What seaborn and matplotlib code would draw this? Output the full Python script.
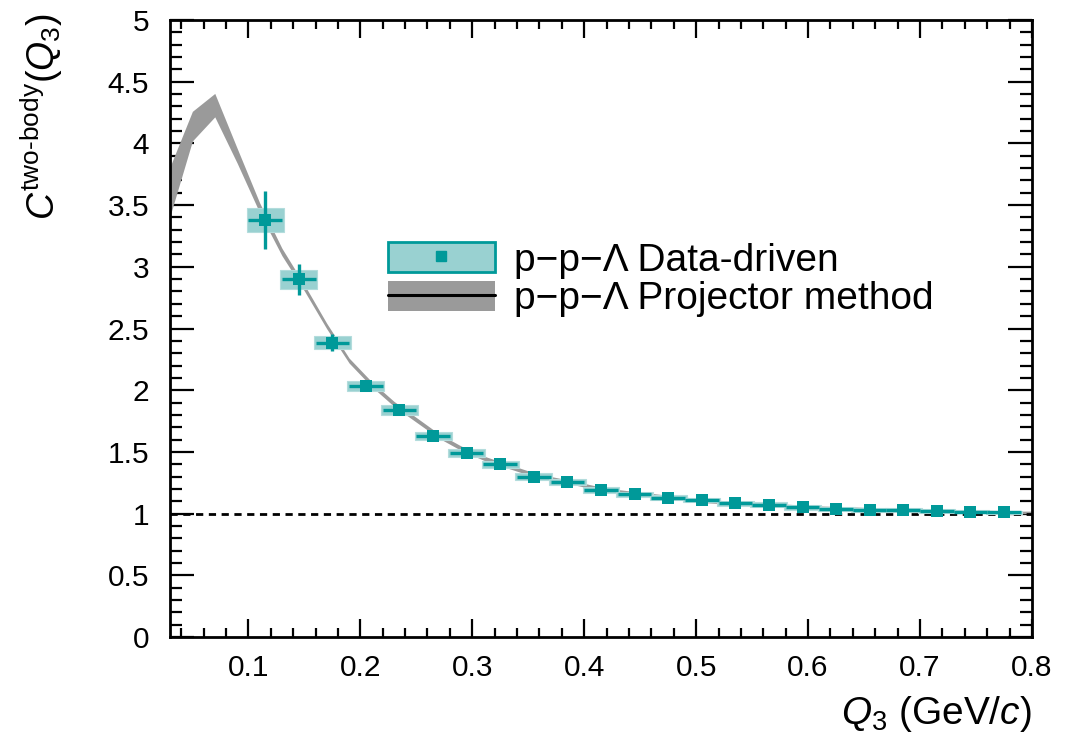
import numpy as np
import pandas as pd
import matplotlib
matplotlib.use("Agg")
import matplotlib.pyplot as plt
import seaborn as sns
from matplotlib.patches import Patch
from matplotlib.lines import Line2D
from matplotlib.ticker import MultipleLocator

# ---------------- data ----------------
q3_data = [0.115, 0.145, 0.175, 0.205, 0.235, 0.265, 0.295, 0.325, 0.355, 0.385,
           0.415, 0.445, 0.475, 0.505, 0.535, 0.565, 0.595, 0.625, 0.655, 0.685,
           0.715, 0.745, 0.775]
c_data = [3.38, 2.90, 2.385, 2.035, 1.84, 1.63, 1.49, 1.40, 1.30, 1.255,
          1.19, 1.155, 1.13, 1.11, 1.083, 1.072, 1.05, 1.04, 1.03, 1.028,
          1.022, 1.015, 1.01]
stat_err = [0.235, 0.125, 0.07, 0.045, 0.04, 0.035, 0.03, 0.028, 0.025, 0.022,
            0.02, 0.02, 0.018, 0.018, 0.016, 0.016, 0.015, 0.015, 0.014, 0.014,
            0.014, 0.013, 0.013]
syst_err = [0.10, 0.077, 0.054, 0.043, 0.038, 0.035, 0.032, 0.030, 0.028, 0.026,
            0.024, 0.022, 0.021, 0.020, 0.019, 0.018, 0.017, 0.016, 0.015, 0.015,
            0.014, 0.014, 0.013]
bin_half_width = 0.015

q3_theory = [0.03, 0.05, 0.07, 0.09, 0.11, 0.13, 0.15, 0.17, 0.19, 0.21,
             0.23, 0.25, 0.27, 0.29, 0.31, 0.33, 0.35, 0.37, 0.39, 0.41,
             0.43, 0.45, 0.47, 0.49, 0.51, 0.53, 0.55, 0.57, 0.59, 0.61,
             0.63, 0.65, 0.67, 0.69, 0.71, 0.73, 0.75, 0.77, 0.79, 0.81]
c_theory = [3.61, 4.14, 4.31, 3.90, 3.48, 3.12, 2.83, 2.52, 2.24, 2.05,
            1.89, 1.76, 1.63, 1.53, 1.45, 1.39, 1.33, 1.285, 1.25, 1.21,
            1.18, 1.16, 1.14, 1.12, 1.10, 1.09, 1.08, 1.07, 1.06, 1.05,
            1.045, 1.04, 1.035, 1.03, 1.025, 1.02, 1.018, 1.015, 1.01, 1.01]
theory_half = [0.20, 0.12, 0.095, 0.06, 0.04, 0.03, 0.025, 0.022, 0.02, 0.02,
               0.02, 0.019, 0.018, 0.018, 0.017, 0.017, 0.016, 0.016, 0.015, 0.015,
               0.015, 0.014, 0.014, 0.014, 0.013, 0.013, 0.013, 0.012, 0.012, 0.012,
               0.012, 0.011, 0.011, 0.011, 0.011, 0.010, 0.010, 0.010, 0.010, 0.010]

x_ticks = [0.1, 0.2, 0.3, 0.4, 0.5, 0.6, 0.7, 0.8]
x_tick_labels = ["0.1", "0.2", "0.3", "0.4", "0.5", "0.6", "0.7", "0.8"]
y_ticks = [0, 0.5, 1, 1.5, 2, 2.5, 3, 3.5, 4, 4.5, 5]
y_tick_labels = ["0", "0.5", "1", "1.5", "2", "2.5", "3", "3.5", "4", "4.5", "5"]

label_data = "p\u2212p\u2212\u039b Data-driven"
label_theory = "p\u2212p\u2212\u039b Projector method"

# ---------------- style ----------------
sns.set_theme(style="ticks")
plt.rcParams["font.family"] = ["Liberation Sans", "DejaVu Sans"]
plt.rcParams["mathtext.fontset"] = "custom"
plt.rcParams["mathtext.rm"] = "Liberation Sans"
plt.rcParams["mathtext.it"] = "Liberation Sans:italic"
plt.rcParams["mathtext.bf"] = "Liberation Sans:bold"
plt.rcParams["text.color"] = "black"
plt.rcParams["axes.labelcolor"] = "black"
plt.rcParams["xtick.color"] = "black"
plt.rcParams["ytick.color"] = "black"

teal = "#009999"
teal_light = "#99d1d1"
gray_band = "#9a9a9a"

df = pd.DataFrame({"q3": q3_data, "c": c_data, "stat": stat_err, "syst": syst_err})
dft = pd.DataFrame({"q3": q3_theory, "c": c_theory, "half": theory_half})

fig = plt.figure(figsize=(10.81, 7.42), dpi=100)
ax = fig.add_axes([170 / 1081, 1 - 637 / 742, 862 / 1081, 617 / 742])

# theory band
ax.fill_between(dft["q3"], dft["c"] - dft["half"], dft["c"] + dft["half"],
                color=gray_band, linewidth=0, zorder=1)

# reference line at 1
ax.axhline(1.0, color="black", linestyle=(0, (2.6, 2.0)), linewidth=2.0, zorder=2)

# systematic boxes
ax.bar(df["q3"], 2 * df["syst"], bottom=df["c"] - df["syst"], width=2 * bin_half_width + 0.003,
       color=teal_light, edgecolor="#b3dcdc", linewidth=0.8, zorder=3)

# statistical errors
ax.errorbar(df["q3"], df["c"], yerr=df["stat"], xerr=bin_half_width, fmt="none",
            ecolor=teal, elinewidth=2.4, capsize=0, zorder=4)

# markers
sns.scatterplot(data=df, x="q3", y="c", marker="s", s=75, color=teal,
                linewidth=0, ax=ax, zorder=5, legend=False)

# axes
ax.set_xlim(0.03, 0.8)
ax.set_ylim(0, 5)
ax.set_xticks(x_ticks, labels=x_tick_labels)
ax.set_yticks(y_ticks, labels=y_tick_labels)
ax.xaxis.set_minor_locator(MultipleLocator(0.02))
ax.yaxis.set_minor_locator(MultipleLocator(0.1))
for s in ax.spines.values():
    s.set_linewidth(2.0)
    s.set_color("black")
    s.set_visible(True)
ax.tick_params(axis="both", which="both", direction="in", top=True, right=True,
               color="black", width=1.6, labelcolor="black")
ax.tick_params(axis="x", which="major", length=13, labelsize=21.5, pad=12)
ax.tick_params(axis="x", which="minor", length=6.5)
ax.tick_params(axis="y", which="major", length=17, labelsize=21.5, pad=15)
ax.tick_params(axis="y", which="minor", length=8.5)

ax.set_xlabel(r"$Q_3$ (GeV/$c$)", fontsize=28, loc="right", labelpad=9)
ax.set_ylabel(r"$C^{\mathrm{two}\text{-}\mathrm{body}}(Q_3)$", fontsize=27, loc="top")
ax.yaxis.set_label_coords(-0.122, 1.011)

# legend
h_data = (Patch(facecolor=teal_light, edgecolor=teal, linewidth=2.0),
          Line2D([], [], marker="s", color=teal, markersize=7, linestyle="none"))
h_theory = (Patch(facecolor=gray_band, edgecolor=gray_band, linewidth=0),
            Line2D([], [], color="black", linewidth=2.2))
leg = ax.legend([h_data, h_theory], [label_data, label_theory],
                loc="upper left", bbox_to_anchor=(388 / 1081, 1 - 242 / 742),
                bbox_transform=fig.transFigure, frameon=False, fontsize=28,
                handlelength=2.75, handleheight=0.82, handletextpad=0.5,
                labelspacing=0.05, borderpad=0, borderaxespad=0)

fig.savefig("out.png", dpi=100)
